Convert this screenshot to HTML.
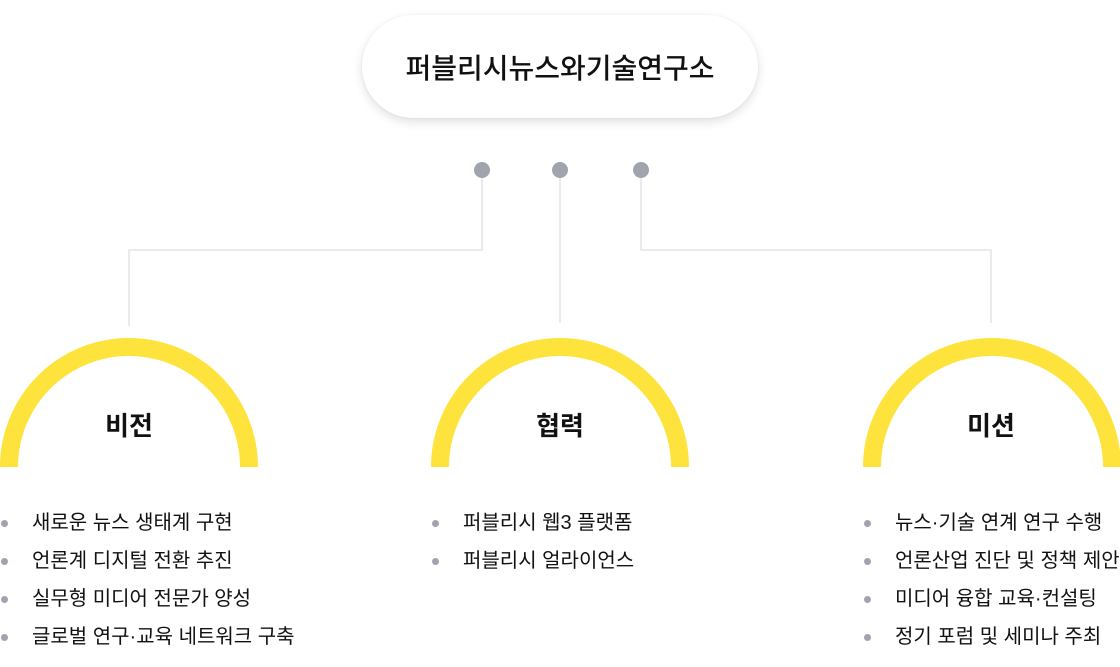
<!DOCTYPE html>
<html><head><meta charset="utf-8"><style>
body{margin:0;width:1120px;height:667px;background:#fff;position:relative;overflow:hidden;font-family:"Liberation Sans","Noto Sans CJK KR",sans-serif;color:#111}
.pill{position:absolute;left:362px;top:15px;width:396px;height:103px;border-radius:52px;background:#fff;box-shadow:0 4px 10px rgba(0,0,0,.12),0 0 3px rgba(0,0,0,.05);display:flex;align-items:center;justify-content:center;font-size:28px;font-weight:500}
.lbl{position:absolute;width:200px;text-align:center;font-size:26px;font-weight:700;top:406px}
ul{position:absolute;margin:0;padding:0;list-style:none;font-size:20px}
li{height:38px;line-height:38px;position:relative;padding-left:32px}
li:before{content:"";position:absolute;left:1px;top:16px;width:7px;height:7px;border-radius:50%;background:#a0a4ad}
</style></head><body>
<div class="pill">퍼블리시뉴스와기술연구소</div>
<svg width="1120" height="667" style="position:absolute;left:0;top:0">
<g fill="none" stroke="#e2e5ea" stroke-width="1.5">
<path d="M482 170V250H129V326"/><path d="M560 170V323"/><path d="M641 170V250H991V323"/>
</g>
<g fill="#a0a4ad"><circle cx="482" cy="170" r="8"/><circle cx="560" cy="170" r="8"/><circle cx="641" cy="170" r="8"/></g>
<g fill="none" stroke="#fde33c" stroke-width="18">
<path d="M9 467A120 120 0 0 1 249 467"/><path d="M440 467A120 120 0 0 1 680 467"/><path d="M872 467A120 120 0 0 1 1112 467"/>
</g>
</svg>
<div class="lbl" style="left:29px">비전</div>
<div class="lbl" style="left:460px">협력</div>
<div class="lbl" style="left:891px">미션</div>
<ul style="left:0;top:504px"><li>새로운 뉴스 생태계 구현</li><li>언론계 디지털 전환 추진</li><li>실무형 미디어 전문가 양성</li><li>글로벌 연구·교육 네트워크 구축</li></ul>
<ul style="left:431px;top:504px"><li>퍼블리시 웹3 플랫폼</li><li>퍼블리시 얼라이언스</li></ul>
<ul style="left:863px;top:504px;white-space:nowrap"><li>뉴스·기술 연계 연구 수행</li><li>언론산업 진단 및 정책 제안</li><li>미디어 융합 교육·컨설팅</li><li>정기 포럼 및 세미나 주최</li></ul>
</body></html>
